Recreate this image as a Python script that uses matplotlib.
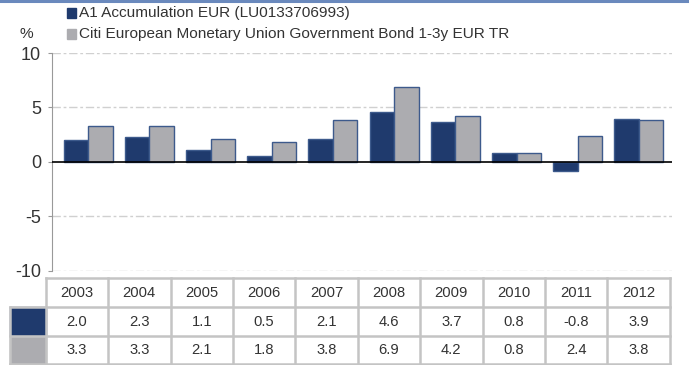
import numpy as np
import matplotlib.pyplot as plt
from matplotlib.patches import Rectangle
from matplotlib.lines import Line2D

plt.rcParams['font.family'] = ['Liberation Sans', 'DejaVu Sans']
plt.rcParams['axes.unicode_minus'] = False

# annual returns, fund vs. benchmark
years = ["2003", "2004", "2005", "2006", "2007", "2008", "2009", "2010", "2011", "2012"]
fund = [2.0, 2.3, 1.1, 0.5, 2.1, 4.6, 3.7, 0.8, -0.8, 3.9]
bench = [3.3, 3.3, 2.1, 1.8, 3.8, 6.9, 4.2, 0.8, 2.4, 3.8]
fund_name = "A1 Accumulation EUR (LU0133706993)"
bench_name = "Citi European Monetary Union Government Bond 1-3y EUR TR"

navy = "#1f3a6d"
grey = "#acacb0"
edge = "#3d5a8c"
txt = "#333333"

W, H = 694, 365
fig = plt.figure(figsize=(W / 100, H / 100), dpi=100)

def fx(x):
    return x / W

def fy(y):
    return 1 - y / H

# bar chart
ax = fig.add_axes([fx(52), fy(270.7), fx(672) - fx(52), fy(53) - fy(270.7)])
x = np.arange(len(years))
bw = 0.4
ax.bar(x - bw / 2, fund, bw, color=navy, edgecolor=edge, linewidth=1, zorder=3)
ax.bar(x + bw / 2, bench, bw, color=grey, edgecolor=edge, linewidth=1, zorder=3)
ax.set_xlim(-0.59, 9.54)
ax.set_ylim(-10, 10)
ax.set_yticks([-10, -5, 0, 5, 10])
ax.set_xticks([])
for v in [-10, -5, 5, 10]:
    ax.axhline(v, color="#d0d0d0", lw=1, ls=(0, (6, 2, 2, 2)), zorder=1)
ax.axhline(0, color="black", lw=1.2, zorder=4)
for s in ["top", "right", "bottom"]:
    ax.spines[s].set_visible(False)
ax.spines["left"].set_color("#999999")
ax.tick_params(axis="y", colors="#999999", length=3, pad=5, labelsize=13, labelcolor=txt)
ax.patch.set_alpha(0)

# legend and unit label
for i, (name, c) in enumerate([(fund_name, navy), (bench_name, grey)]):
    yc = 13 + 21 * i
    fig.patches.append(Rectangle((fx(67), fy(yc + 4.5)), fx(8.5), fy(0) - fy(9),
                                 transform=fig.transFigure, color=c))
    fig.text(fx(79), fy(yc), name, fontsize=11.1, color=txt, va="center", ha="left")
fig.text(fx(20), fy(34), "%", fontsize=11.1, color=txt, va="center", ha="left")

# top rule
fig.lines.append(Line2D([0, fx(687)], [fy(1), fy(1)], transform=fig.transFigure,
                        color="#6a89bd", lw=2.2))

# data table under the chart
x0, sw = 45.7, 62.4
rows = [278.3, 307.3, 336, 364]
grid = "#c4c4c4"
fig.patches.append(Rectangle((fx(10), fy(rows[2])), fx(x0 - 10), fy(rows[1]) - fy(rows[2]),
                             transform=fig.transFigure, color=navy))
fig.patches.append(Rectangle((fx(10), fy(rows[3])), fx(x0 - 10), fy(rows[2]) - fy(rows[3]),
                             transform=fig.transFigure, color=grey))
for r in rows:
    xs = x0 if r == rows[0] else 10
    fig.lines.append(Line2D([fx(xs), fx(x0 + sw * 10)], [fy(r), fy(r)],
                            transform=fig.transFigure, color=grid, lw=1.8))
fig.lines.append(Line2D([fx(10), fx(10)], [fy(rows[1]), fy(rows[3])],
                        transform=fig.transFigure, color=grid, lw=1.8))
for k in range(11):
    xl = x0 + sw * k
    fig.lines.append(Line2D([fx(xl), fx(xl)], [fy(rows[0]), fy(rows[3])],
                            transform=fig.transFigure, color=grid, lw=1.8))
for k in range(len(years)):
    xc = x0 + sw * (k + 0.5)
    fig.text(fx(xc), fy(293), years[k], fontsize=10.6, color=txt, ha="center", va="center")
    fig.text(fx(xc), fy(322), f"{fund[k]:.1f}", fontsize=10.6, color=txt, ha="center", va="center")
    fig.text(fx(xc), fy(350.5), f"{bench[k]:.1f}", fontsize=10.6, color=txt, ha="center", va="center")

fig.savefig("out.png", dpi=100)
